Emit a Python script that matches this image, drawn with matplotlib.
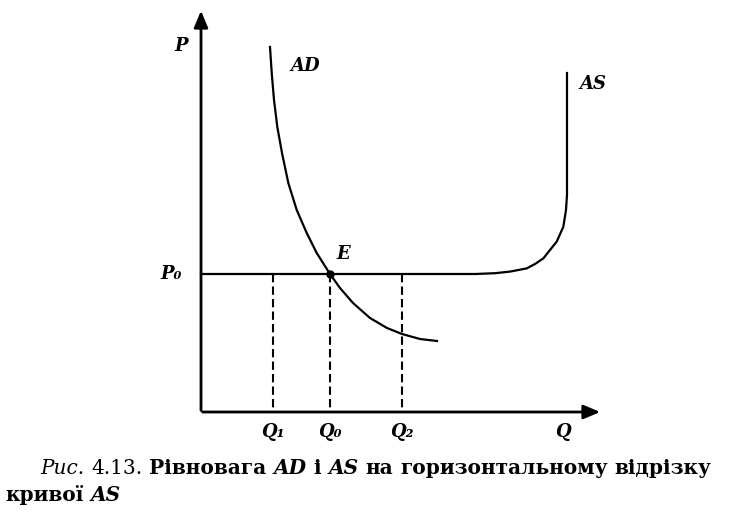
import matplotlib
matplotlib.use("Agg")
import matplotlib.pyplot as plt

# curve points (Q, P in arbitrary units)
ad_q = [1.725, 1.768, 1.825, 1.908, 2.025, 2.183, 2.393, 2.643, 2.893, 3.225,
        3.475, 3.8, 4.225, 4.65, 5.025, 5.475, 5.9]
ad_p = [9.125, 8.475, 7.8, 7.125, 6.475, 5.725, 5.05, 4.475, 3.975, 3.45,
        3.1, 2.725, 2.35, 2.1, 1.95, 1.825, 1.775]

as_q = [0.0, 6.85, 7.35, 7.725, 8.143, 8.35, 8.558, 8.725, 8.893, 9.058, 9.125, 9.15, 9.15]
as_p = [3.45, 3.45, 3.47, 3.51, 3.59, 3.7, 3.84, 4.05, 4.26, 4.63, 5.05, 5.425, 8.475]

p0 = 3.45
q0 = 3.225
q_marks = [1.8, q0, 5.025]
q_labels = ["Q₁", "Q₀", "Q₂"]

caption_line1 = [("Рис.", "italic", "normal"), ("4.13.", "normal", "normal"),
                 ("Рівновага", "normal", "bold"), ("AD", "italic", "bold"),
                 ("і", "normal", "bold"), ("AS", "italic", "bold"),
                 ("на", "normal", "bold"), ("горизонтальному", "normal", "bold"),
                 ("відрізку", "normal", "bold")]
caption_line2 = [("кривої", "normal", "bold"), ("AS", "italic", "bold")]

fig = plt.figure(figsize=(7.35, 5.21), dpi=100)
ax = fig.add_axes([0, 0, 1, 1])
ax.set_xlim(-5.025, 13.35)
ax.set_ylim(-2.725, 10.3)
ax.axis("off")

serif = "DejaVu Serif"
lab = dict(family=serif, style="italic", weight="bold", fontsize=13)

# axes with arrows
arrow = dict(arrowstyle="-|>,head_length=1.0,head_width=0.42", color="black", lw=2)
ax.annotate("", xy=(10.05, 0), xytext=(-0.03, 0), arrowprops=arrow)
ax.annotate("", xy=(0, 10.1), xytext=(0, -0.03), arrowprops=arrow)

# curves
ax.plot(as_q, as_p, color="black", lw=1.6, solid_joinstyle="round")
ax.plot(ad_q, ad_p, color="black", lw=1.6, solid_joinstyle="round")

# dashed drop lines
for q in q_marks:
    ax.plot([q, q], [p0, 0], color="black", lw=1.5, ls=(0, (4, 2)))

ax.plot([q0], [p0], "o", color="black", ms=5)

# labels
ax.text(-0.5, 9.15, "P", ha="center", va="center", **lab)
ax.text(-0.75, 3.45, "P₀", ha="center", va="center", **lab)
ax.text(2.6, 8.65, "AD", ha="center", va="center", **lab)
ax.text(9.8, 8.2, "AS", ha="center", va="center", **lab)
ax.text(3.55, 3.95, "E", ha="center", va="center", **lab)
for q, t in zip(q_marks, q_labels):
    ax.text(q, -0.5, t, ha="center", va="center", **lab)
ax.text(9.05, -0.5, "Q", ha="center", va="center", **lab)

# caption with mixed styles
fig.canvas.draw()
renderer = fig.canvas.get_renderer()


def draw_line(parts, x0, y0, size=14.5):
    x = x0
    for word, style, weight in parts:
        t = fig.text(x / 735, 1 - y0 / 521, word, family=serif, style=style,
                     weight=weight, fontsize=size, va="baseline", ha="left")
        bb = t.get_window_extent(renderer)
        x = bb.x1 + 7


draw_line(caption_line1, 40, 474)
draw_line(caption_line2, 5, 501)

fig.savefig("out.png", dpi=100, facecolor="white")
